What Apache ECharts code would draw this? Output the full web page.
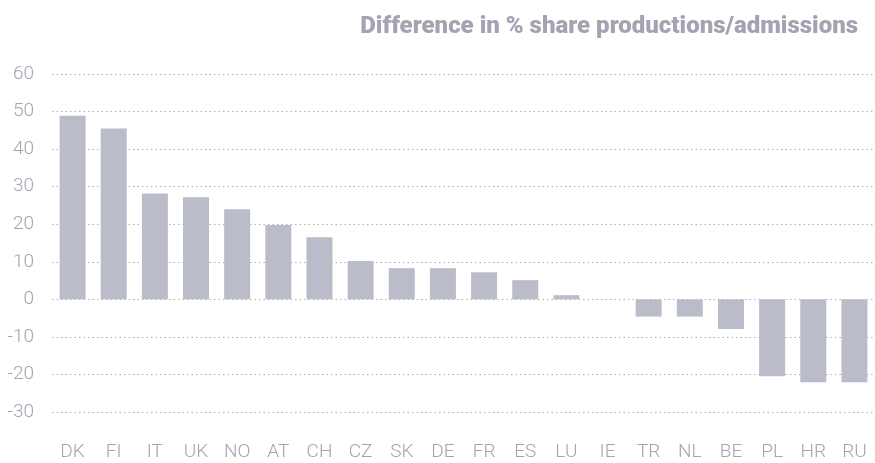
<!DOCTYPE html>
<html><head><meta charset="utf-8">
<script src="https://cdn.jsdelivr.net/npm/echarts@6/dist/echarts.min.js"></script>
<style>html,body{margin:0;padding:0;background:#fff}#c{width:875px;height:463px}</style>
</head><body><div id="c"></div>
<script>
const categories = ["DK","FI","IT","UK","NO","AT","CH","CZ","SK","DE","FR","ES","LU","IE","TR","NL","BE","PL","HR","RU"];
const values = [48.9,45.5,28.2,27.2,24.0,19.8,16.5,10.2,8.3,8.3,7.2,5.1,1.1,0,-4.6,-4.6,-7.9,-20.5,-22.1,-22.1];
const titleText = "Difference in % share productions/admissions";

const chart = echarts.init(document.getElementById('c'));
chart.setOption({
  animation: false,
  title: {
    text: titleText, right: 12, top: 10,
    textStyle: {fontFamily: 'Roboto', fontWeight: 900, fontSize: 24, color: '#a3a3b1'}
  },
  grid: {left: 52, right: -3, top: 74, bottom: 51, containLabel: false},
  xAxis: {
    type: 'category', data: categories,
    position: 'bottom',
    axisLine: {show: false, onZero: false}, axisTick: {show: false},
    axisLabel: {fontFamily: 'Roboto', fontWeight: 300, fontSize: 19, color: '#a3a3b1', margin: 31}
  },
  yAxis: {
    type: 'value', min: -30, max: 60, interval: 10,
    axisLine: {show: false}, axisTick: {show: false},
    axisLabel: {fontFamily: 'Roboto', fontWeight: 300, fontSize: 19, color: '#a3a3b1', margin: 18},
    splitLine: {lineStyle: {type: [1.5, 3], color: '#b0b0b8', width: 1}}
  },
  series: [{
    type: 'bar', data: values, barWidth: 26,
    itemStyle: {color: '#bbbcca'}
  }]
});
</script></body></html>
